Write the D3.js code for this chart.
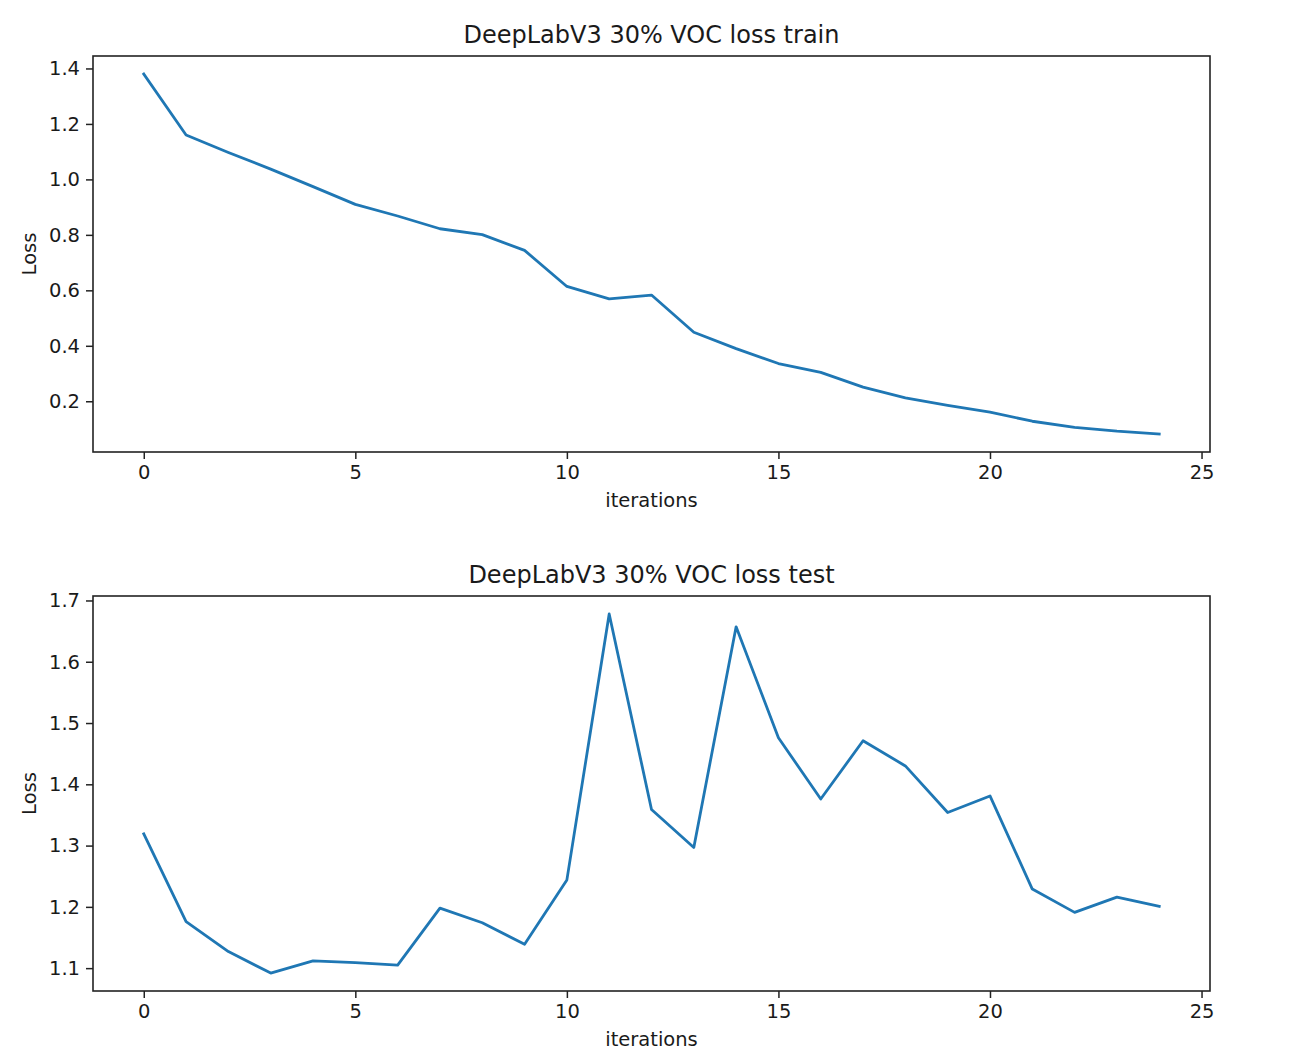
<!DOCTYPE html>
<html>
<head>
<meta charset="utf-8">
<script src="https://cdn.jsdelivr.net/npm/d3@7"></script>
<style>
  body { margin: 0; background: #fff; }
  text { font-family: "DejaVu Sans", sans-serif; fill: #1a1a1a; }
</style>
</head>
<body>
<svg id="chart" width="1308" height="1064"></svg>
<script>
const iterations = d3.range(0, 25);

const trainLoss = [1.380, 1.160, 1.097, 1.037, 0.974, 0.910, 0.868, 0.822, 0.801, 0.744,
  0.614, 0.569, 0.583, 0.449, 0.390, 0.336, 0.304, 0.251, 0.212, 0.185,
  0.161, 0.128, 0.106, 0.092, 0.082];

const testLoss = [1.319, 1.176, 1.127, 1.092, 1.112, 1.109, 1.105, 1.198, 1.174, 1.139,
  1.244, 1.678, 1.359, 1.297, 1.657, 1.476, 1.376, 1.471, 1.430, 1.354,
  1.381, 1.229, 1.191, 1.216, 1.201];

const xTicks = [0, 5, 10, 15, 20, 25];
const trainTicks = [0.2, 0.4, 0.6, 0.8, 1.0, 1.2, 1.4];
const testTicks = [1.1, 1.2, 1.3, 1.4, 1.5, 1.6, 1.7];

const svg = d3.select("#chart");
const left = 93, right = 1210;

// matplotlib style: 5% margin around the data
function padded(values) {
  const [lo, hi] = d3.extent(values);
  const m = (hi - lo) * 0.05;
  return [lo - m, hi + m];
}

function drawPanel(values, yTicks, title, top, bottom) {
  const x = d3.scaleLinear().domain(padded(iterations)).range([left, right]);
  const y = d3.scaleLinear().domain(padded(values)).range([bottom, top]);
  const g = svg.append("g");

  const xAxis = g.append("g")
    .attr("transform", `translate(0,${bottom})`)
    .call(d3.axisBottom(x).tickValues(xTicks).tickFormat(d3.format("d"))
      .tickSize(7).tickPadding(6));
  const yAxis = g.append("g")
    .attr("transform", `translate(${left},0)`)
    .call(d3.axisLeft(y).tickValues(yTicks).tickFormat(d3.format(".1f"))
      .tickSize(7).tickPadding(6));

  [xAxis, yAxis].forEach(a => {
    a.select(".domain").remove();
    a.selectAll(".tick line").attr("stroke", "#222").attr("stroke-width", 1.5);
    a.selectAll(".tick text")
      .attr("font-family", "DejaVu Sans")
      .attr("font-size", 19.5)
      .attr("fill", "#1a1a1a");
  });

  const line = d3.line()
    .x((d, i) => x(iterations[i]))
    .y(d => y(d));

  g.append("path")
    .datum(values)
    .attr("d", line)
    .attr("fill", "none")
    .attr("stroke", "#1f77b4")
    .attr("stroke-width", 2.8)
    .attr("stroke-linejoin", "round")
    .attr("stroke-linecap", "square");

  g.append("rect")
    .attr("x", left)
    .attr("y", top)
    .attr("width", right - left)
    .attr("height", bottom - top)
    .attr("fill", "none")
    .attr("stroke", "#222")
    .attr("stroke-width", 1.6);

  g.append("text")
    .attr("x", (left + right) / 2)
    .attr("y", top - 13)
    .attr("text-anchor", "middle")
    .attr("font-size", 24)
    .text(title);

  g.append("text")
    .attr("x", (left + right) / 2)
    .attr("y", bottom + 55)
    .attr("text-anchor", "middle")
    .attr("font-size", 19.5)
    .text("iterations");

  g.append("text")
    .attr("transform", `translate(36,${(top + bottom) / 2}) rotate(-90)`)
    .attr("text-anchor", "middle")
    .attr("font-size", 19.5)
    .text("Loss");
}

drawPanel(trainLoss, trainTicks, "DeepLabV3 30% VOC loss train", 56, 452);
drawPanel(testLoss, testTicks, "DeepLabV3 30% VOC loss test", 596, 991);
</script>
</body>
</html>
